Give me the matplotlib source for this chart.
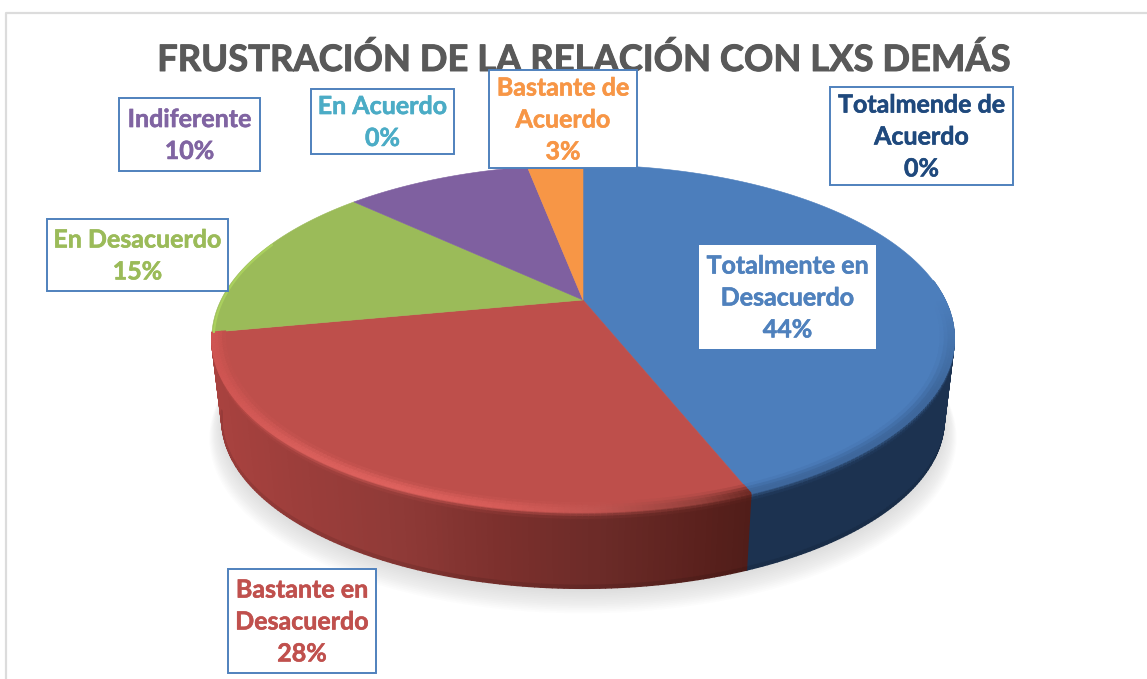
import numpy as np
from matplotlib import pyplot as plt
from matplotlib import patheffects as pe
from matplotlib.collections import PolyCollection
from matplotlib.colors import to_rgb
from matplotlib.patches import Polygon, Rectangle

plt.rcParams['font.family'] = ['Lato', 'DejaVu Sans']

title = "FRUSTRACIÓN DE LA RELACIÓN CON LXS DEMÁS"
categories = ["Totalmente en\nDesacuerdo", "Bastante en\nDesacuerdo", "En Desacuerdo",
              "Indiferente", "En Acuerdo", "Bastante de\nAcuerdo", "Totalmende de\nAcuerdo"]
percents = [44, 28, 15, 10, 0, 3, 0]
slice_colors = ["#4C7EBC", "#BE4F4B", "#9BBB59", "#7F60A0", "#4BACC6", "#F79646", "#1F497D"]
label_colors = ["#4F81BD", "#C0504D", "#9BBB59", "#8064A2", "#4BACC6", "#F79646", "#1F497D"]

# label boxes in pixels: left, top, right, bottom
boxes = [(699, 245, 876, 349), (228, 569, 376, 673), (47, 219, 228, 291),
         (119, 98, 260, 171), (311, 89, 454, 154), (489, 70, 637, 168), (830, 87, 1013, 185)]

# pie camera
cx, cy = 583, 300
a, b, k = 165, 362, 0.222
depth, shrink = 82, 0.027

# side wall shading, left to right
wall_x = [222, 300, 400, 500, 600, 700, 748]
red_wall = ["#A8423F", "#9C3E3B", "#8F3A37", "#7C302D", "#6C2B28", "#5A211D", "#511D19"]
red_light = ["#CF5552", "#D95F5B", "#DE625E", "#D65C58", "#C05450", "#94403B", "#6E2A25"]
blue_wall = "#1C3250"


def proj(t, r=1.0, z=0.0):
    X = r * np.sin(t)
    Y = r * np.cos(t)
    d = 1 + k * Y
    s = 1 - shrink * z
    return cx + b * X / d * s, cy - a * Y / d * s + depth * z


def mix(c1, c2, f):
    return tuple(np.array(c1) * (1 - f) + np.array(c2) * f)


def shade(table, x):
    rgb = np.array([to_rgb(c) for c in table])
    return tuple(np.interp(x, wall_x, rgb[:, i]) for i in range(3))


fig = plt.figure(figsize=(11.47, 6.79), dpi=100)
ax = fig.add_axes([0, 0, 1, 1])
ax.set_xlim(0, 1147)
ax.set_ylim(679, 0)
ax.axis("off")

# chart frame, only top and left show
ax.plot([6, 6, 1147], [679, 13, 13], color="#DCDCDC", lw=1.6)

edges = np.radians(np.cumsum([0] + percents) * 3.6)

# soft shadow under the pie
ts = np.radians(np.linspace(0, 360, 240))
for i in range(14):
    px, py = proj(ts, 1.0 + 0.0025 * i, 1.0)
    ax.add_patch(Polygon(np.c_[px, py + 2 + 1.1 * i], fc="#707070", ec="none", alpha=0.014, zorder=1))

# wall and bevel only on the two front slices
rows = [(.965, 0), (.975, 0), (.985, 0), (.993, 0), (1, 0), (1, .03), (1, .06), (1, .1), (1, .96), (1, 1)]
wall_quads, wall_cols = [], []
bevel_quads, bevel_cols = [], []
for i in [0, 1]:
    t = np.radians(np.arange(np.degrees(edges[i]), np.degrees(edges[i + 1]) + 0.75, 0.75))
    t = np.clip(t, edges[i], edges[i + 1])
    top = to_rgb(slice_colors[i])
    for t0, t1 in zip(t[:-1], t[1:]):
        tm = (t0 + t1) / 2
        if np.cos(tm) > 0.12:
            continue
        x_mid = proj(tm, 1, 0.5)[0]
        if i == 0:
            wall = to_rgb(blue_wall)
            light = mix(top, wall, 0.3)
            fade = np.clip(-np.cos(tm) / 0.5, 0, 1)
        else:
            wall = shade(red_wall, x_mid)
            light = shade(red_light, x_mid)
            fade = np.clip(-np.cos(tm) / 0.15, 0, 1)
        stops = [top, mix(top, light, .4), mix(top, light, .8), light, light,
                 mix(light, wall, .45), mix(light, wall, .8), wall, wall, mix(wall, (0, 0, 0), .2)]
        for j in range(len(rows) - 1):
            r0, z0 = rows[j]
            r1, z1 = rows[j + 1]
            q = [proj(t0, r0, z0), proj(t1, r0, z0), proj(t1, r1, z1), proj(t0, r1, z1)]
            col = mix(stops[j], stops[j + 1], 0.5)
            if z0 == 0 and z1 == 0:
                bevel_quads.append(q)
                bevel_cols.append(mix(top, col, fade))
            else:
                wall_quads.append(q)
                wall_cols.append(col)

ax.add_collection(PolyCollection(wall_quads, facecolors=wall_cols, edgecolors=wall_cols, linewidths=1.0, zorder=2))

# top face
for i, p in enumerate(percents):
    if p == 0:
        continue
    t = np.linspace(edges[i], edges[i + 1], max(int(p * 6), 8))
    px, py = proj(t)
    pts = np.vstack([[cx, cy], np.c_[px, py]])
    ax.add_patch(Polygon(pts, fc=slice_colors[i], ec=slice_colors[i], lw=0.4, zorder=3))

ax.add_collection(PolyCollection(bevel_quads, facecolors=bevel_cols, edgecolors=bevel_cols, linewidths=1.0, zorder=4))

# thin light rim on the green slice
t = np.linspace(edges[2], edges[2] + np.radians(32), 30)
px, py = proj(t, 0.995)
ax.plot(px, py, color="#AAD05E", lw=1.6, zorder=4, solid_capstyle="round")

heavy = [pe.withStroke(linewidth=0.7, foreground="#595959")]
ax.text(583, 60, title, ha="center", va="center", fontsize=26.2, fontweight="bold", color="#595959",
        zorder=5, path_effects=heavy)

for i, (name, p) in enumerate(zip(categories, percents)):
    x0, y0, x1, y1 = boxes[i]
    edge = "none" if i == 0 else "#4F81BD"
    ax.add_patch(Rectangle((x0, y0), x1 - x0, y1 - y0, fc="white", ec=edge, lw=1.4, zorder=6))
    ax.text((x0 + x1) / 2, (y0 + y1) / 2 + 1, f"{name}\n{p}%", ha="center", va="center", fontsize=18,
            fontweight="bold", color=label_colors[i], linespacing=1.47, zorder=7,
            path_effects=[pe.withStroke(linewidth=0.4, foreground=label_colors[i])])

fig.savefig("out.png", dpi=100)
